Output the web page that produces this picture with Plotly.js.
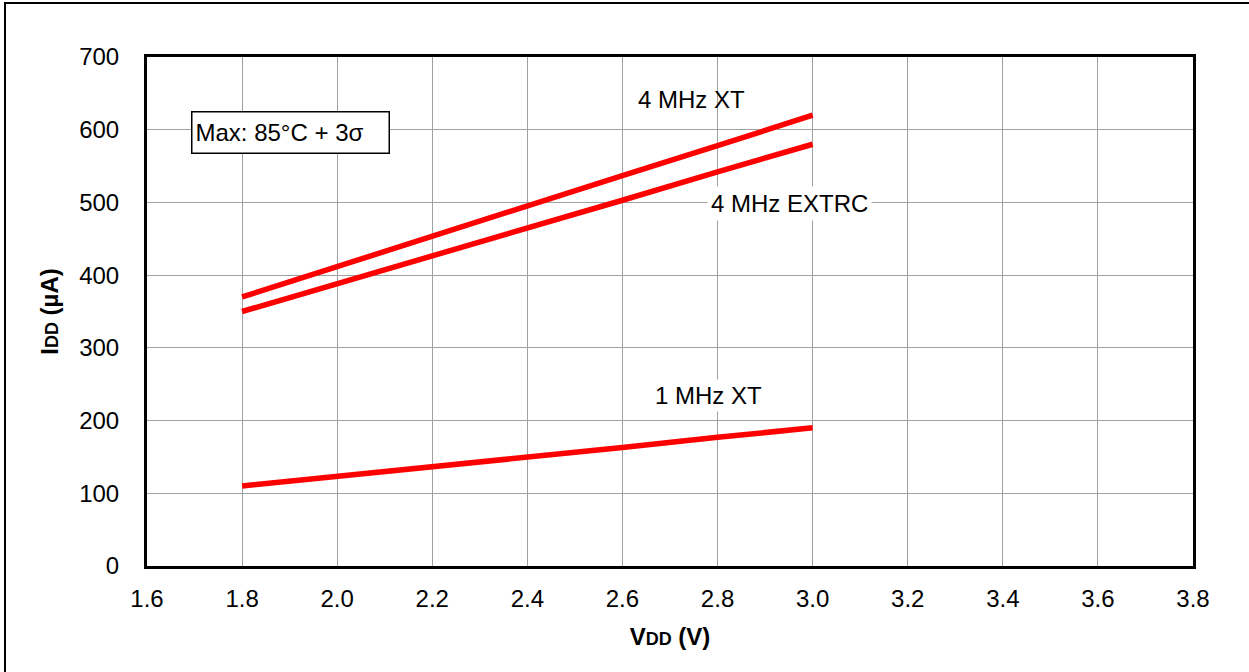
<!DOCTYPE html>
<html>
<head>
<meta charset="utf-8">
<script src="https://cdn.plot.ly/plotly-3.0.1.min.js"></script>
<style>
html,body{margin:0;padding:0;background:#fff;overflow:hidden;}
#frame{position:absolute;left:4px;top:2px;width:1300px;height:720px;border-left:2.5px solid #000;border-top:2.5px solid #000;pointer-events:none;z-index:5;}
#chart{position:absolute;left:0;top:0;width:1249px;height:672px;}
</style>
</head>
<body>
<div id="chart"></div>
<div id="frame"></div>
<script>
const vdd = [1.8, 2.0, 2.2, 2.4, 2.6, 2.8, 3.0];
const xt4 = [370, 412, 453, 495, 537, 578, 620];
const extrc4 = [350, 388, 427, 465, 503, 542, 580];
const xt1 = [110, 123, 136, 150, 163, 177, 190];
const seriesNames = ['4 MHz XT', '4 MHz EXTRC', '1 MHz XT'];
const xTicks = [1.6, 1.8, 2.0, 2.2, 2.4, 2.6, 2.8, 3.0, 3.2, 3.4, 3.6, 3.8];
const yTicks = [0, 100, 200, 300, 400, 500, 600, 700];

const lineStyle = {color: '#ff0000', width: 5.5};
const traces = [xt4, extrc4, xt1].map((ys, i) => ({
  x: vdd, y: ys, type: 'scatter', mode: 'lines', name: seriesNames[i],
  line: lineStyle, hoverinfo: 'skip'
}));

const font = {family: 'Arial, Liberation Sans, sans-serif', size: 24, color: '#000'};

const layout = {
  width: 1249, height: 672,
  margin: {l: 147, r: 56, t: 57, b: 106},
  paper_bgcolor: '#fff', plot_bgcolor: '#fff',
  showlegend: false,
  font: font,
  xaxis: {
    range: [1.6, 3.8], tickvals: xTicks, ticktext: xTicks.map(v => v.toFixed(1)),
    showgrid: true, gridcolor: '#a0a0a0', gridwidth: 1,
    showline: true, linecolor: '#000', linewidth: 3, mirror: true,
    ticks: '', ticklabelstandoff: 9, zeroline: false,
    tickfont: font,
    title: {text: '<b>V<span style="font-size:18px">DD</span> (V)</b>', font: font, standoff: 18}
  },
  yaxis: {
    range: [0, 700], tickvals: yTicks, ticktext: yTicks.map(String),
    showgrid: true, gridcolor: '#a0a0a0', gridwidth: 1,
    showline: true, linecolor: '#000', linewidth: 3, mirror: true,
    ticks: '', ticklabelstandoff: 20, zeroline: false,
    tickfont: font,
    title: {text: '<b>I<span style="font-size:18px">DD</span> (µA)</b>', font: font, standoff: 14}
  },
  annotations: [
    {x: 2.746, y: 641, xref: 'x', yref: 'y', text: seriesNames[0], showarrow: false, font: font},
    {x: 2.952, y: 499, xref: 'x', yref: 'y', text: seriesNames[1], showarrow: false, font: font, bgcolor: '#fff', borderpad: 3},
    {x: 2.782, y: 235, xref: 'x', yref: 'y', text: seriesNames[2], showarrow: false, font: font, bgcolor: '#fff', borderpad: 2},
    {x: 0, y: 0, xref: 'paper', yref: 'paper', text: 'Max: 85°C + 3σ', showarrow: false, font: font,
     bgcolor: '#fff', bordercolor: '#000', borderwidth: 1.5, borderpad: 3, xanchor: 'left', yanchor: 'top',
     width: 190, height: 34, align: 'left'}
  ]
};
// convert the box annotation position from pixels to paper
const pw = 1249 - 147 - 56, ph = 672 - 57 - 106;
layout.annotations[3].x = (191 - 147) / pw;
layout.annotations[3].y = (566 - 111) / ph;

Plotly.newPlot('chart', traces, layout, {staticPlot: true});
</script>
</body>
</html>
